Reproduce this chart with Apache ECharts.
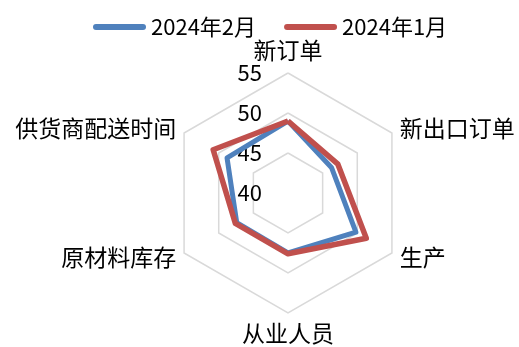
<!DOCTYPE html>
<html><head><meta charset="utf-8">
<script src="https://cdn.jsdelivr.net/npm/echarts@6/dist/echarts.min.js"></script>
<style>html,body{margin:0;padding:0;background:#fff}#c{width:519px;height:347px}</style>
</head><body><div id="c"></div>
<script>
// indicators listed counterclockwise from top (ECharts order)
const indicators = ['新订单','供货商配送时间','原材料库存','从业人员','生产','新出口订单'];
const seriesNames = ['2024年2月','2024年1月'];
const feb2024 = [49.0, 48.8, 47.4, 47.5, 49.8, 46.3];
const jan2024 = [49.0, 50.8, 47.6, 47.6, 51.3, 47.2];
const axisMin = 40, axisMax = 55;
const colors = ['#4F81BD','#C0504D'];
const FONT = '"Noto Sans CJK SC", "Noto Sans", sans-serif';

const chart = echarts.init(document.getElementById('c'));
chart.setOption({
  animation: false,
  legend: {
    top: 11, left: 88,
    itemWidth: 53, itemHeight: 6, itemGap: 28,
    icon: 'path://M3,0 L50,0 A3,3 0 0 1 50,6 L3,6 A3,3 0 0 1 3,0 Z',
    textStyle: {fontSize: 22, color: '#000', fontFamily: FONT, padding: [0,0,0,0]},
    data: seriesNames
  },
  radar: {
    center: [288, 193], radius: 120,
    startAngle: 90,
    shape: 'polygon',
    splitNumber: 3,
    axisName: {color: '#000', fontSize: 23, fontFamily: FONT},
    nameGap: 9,
    splitLine: {lineStyle: {color: '#D9D9D9', width: 1.5}},
    splitArea: {show: false},
    axisLine: {show: false},
    axisTick: {show: false},
    axisLabel: {show: false},
    indicator: indicators.map((n, i) => {
      const o = {name: n, min: axisMin, max: axisMax};
      if (i === 0) o.axisLabel = {show: true, color: '#000', fontSize: 22, fontFamily: FONT, margin: 26};
      return o;
    })
  },
  series: [{
    type: 'radar',
    symbol: 'none',
    data: [
      {name: seriesNames[0], value: feb2024, lineStyle: {color: colors[0], width: 5}, itemStyle: {color: colors[0]}},
      {name: seriesNames[1], value: jan2024, lineStyle: {color: colors[1], width: 5.5}, itemStyle: {color: colors[1]}}
    ]
  }]
});
</script></body></html>
